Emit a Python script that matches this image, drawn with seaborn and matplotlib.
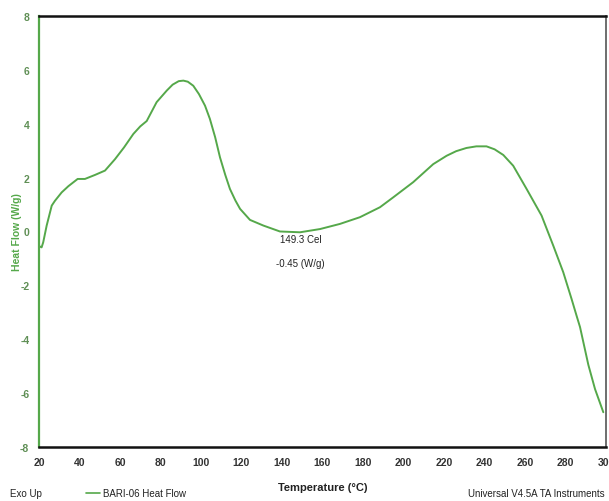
import matplotlib
matplotlib.use("Agg")
import matplotlib.pyplot as plt
import seaborn as sns
import pandas as pd

# DSC heat-flow trace of sample BARI-06
temperature = [20, 21.3, 22.1, 23.8, 26.3, 27.9, 31.2, 34.5, 39.1, 42.7, 47.7, 52.6,
               57.5, 62.0, 66.6, 70.0, 73.2, 78.1, 83.1, 86.0, 89.0, 91.3, 93.5, 96.2,
               99.0, 102.0, 104.4, 107.0, 109.4, 112.0, 114.3, 117.0, 119.3, 124.2,
               130.8, 139.0, 148.9, 158.8, 168.6, 178.5, 188.4, 195.0, 204.8, 214.7,
               221.3, 226.0, 231.1, 236.0, 241.0, 245.0, 249.3, 254.2, 260.8, 268.2,
               274.0, 278.9, 283.0, 285.5, 287.2, 291.3, 294.6, 298.7]
heat_flow = [-0.54, -0.59, -0.4, 0.22, 0.96, 1.14, 1.45, 1.68, 1.95, 1.95, 2.1, 2.26,
             2.68, 3.12, 3.62, 3.9, 4.1, 4.8, 5.23, 5.45, 5.58, 5.6, 5.56, 5.41,
             5.1, 4.67, 4.18, 3.5, 2.75, 2.1, 1.58, 1.15, 0.84, 0.43,
             0.22, 0.0, -0.03, 0.09, 0.28, 0.53, 0.9, 1.27, 1.83, 2.5,
             2.81, 2.98, 3.1, 3.16, 3.16, 3.05, 2.84, 2.44, 1.58, 0.59,
             -0.53, -1.51, -2.5, -3.13, -3.55, -4.95, -5.85, -6.71]

x_ticks = [20, 40, 60, 80, 100, 120, 140, 160, 180, 200, 220, 240, 260, 280, 300]
y_ticks = [-8, -6, -4, -2, 0, 2, 4, 6, 8]

peak_temp = 149.3
peak_flow = -0.45

GREEN = "#55a84a"
TICK_GREEN = "#5f8f55"

sns.set_style("white")
plt.rcParams["font.family"] = ["Liberation Sans Narrow", "Liberation Sans", "DejaVu Sans"]

df = pd.DataFrame({"Temperature": temperature, "Heat Flow": heat_flow})

fig = plt.figure(figsize=(6.09, 5.02), dpi=100)
ax = fig.add_axes([0.064, 0.1076, 0.931, 0.8586])

sns.lineplot(data=df, x="Temperature", y="Heat Flow", ax=ax, color=GREEN,
             linewidth=1.4, sort=False)

ax.set_xlim(20, 300)
ax.set_ylim(-8, 8)
ax.set_xticks(x_ticks)
ax.set_yticks(y_ticks)
ax.set_xticklabels([str(t) for t in x_ticks], fontsize=7.5, fontweight="bold", color="#333333")
ax.set_yticklabels([str(t) for t in y_ticks], fontsize=7.5, fontweight="bold", color=TICK_GREEN)
ax.tick_params(axis="x", direction="inout", length=5, width=1, color="#222222", pad=5)
ax.tick_params(axis="y", direction="out", length=3, width=1, color=TICK_GREEN, pad=4)

for side in ["top", "bottom"]:
    ax.spines[side].set_color("#111111")
    ax.spines[side].set_linewidth(1.8)
ax.spines["right"].set_color("#555555")
ax.spines["right"].set_linewidth(1.2)
ax.spines["left"].set_color(GREEN)
ax.spines["left"].set_linewidth(1.6)

ax.set_xlabel("Temperature (°C)", fontsize=8, fontweight="bold", color="#222222")
ax.set_ylabel("Heat Flow (W/g)", fontsize=7.5, fontweight="bold", color=GREEN)
ax.xaxis.set_label_coords(0.5, -0.081)
ax.yaxis.set_label_coords(-0.030, 0.5)

ax.text(peak_temp, -0.28, f"{peak_temp} Cel", fontsize=7, ha="center", va="center",
        color="#222222", family=["Liberation Sans", "DejaVu Sans"])
ax.text(peak_temp, -1.17, f"{peak_flow} (W/g)", fontsize=7, ha="center", va="center",
        color="#222222", family=["Liberation Sans", "DejaVu Sans"])

fig.text(10 / 609, 1 - 494 / 502, "Exo Up", fontsize=7, ha="left", va="center", color="#222222")
fig.add_artist(plt.Line2D([86 / 609, 100 / 609], [1 - 494 / 502] * 2, color=GREEN, linewidth=1.2))
fig.text(103 / 609, 1 - 494 / 502, "BARI-06 Heat Flow", fontsize=7, ha="left", va="center",
         color="#222222")
fig.text(605 / 609, 1 - 494 / 502, "Universal V4.5A TA Instruments", fontsize=7, ha="right",
         va="center", color="#222222")

fig.savefig("out.png", dpi=100)
